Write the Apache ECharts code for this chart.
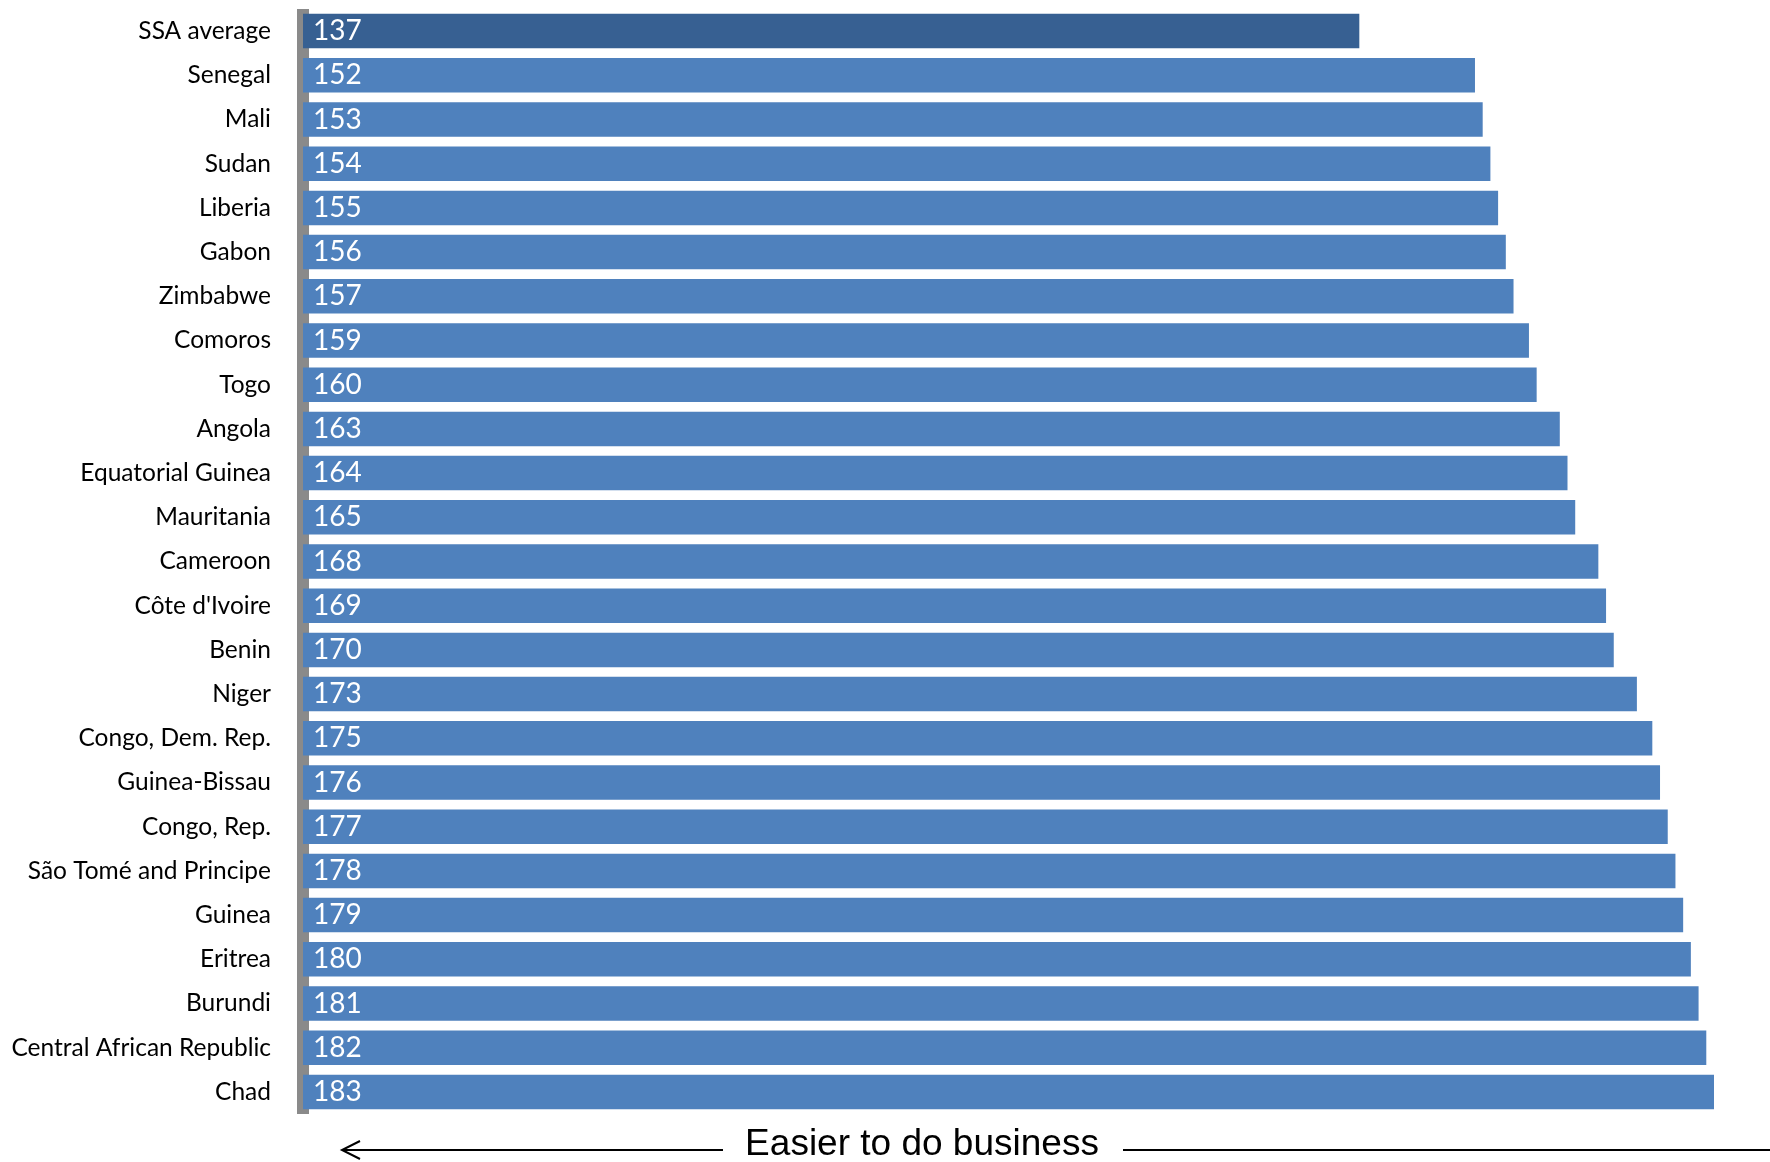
<!DOCTYPE html>
<html>
<head>
<meta charset="utf-8">
<script src="https://cdn.jsdelivr.net/npm/echarts@6/dist/echarts.min.js"></script>
<style>
html,body{margin:0;padding:0;background:#fff;}
#c{width:1770px;height:1162px;}
</style>
</head>
<body>
<div id="c"></div>
<script>
const categories = ["SSA average","Senegal","Mali","Sudan","Liberia","Gabon","Zimbabwe","Comoros","Togo","Angola","Equatorial Guinea","Mauritania","Cameroon","Côte d'Ivoire","Benin","Niger","Congo, Dem. Rep.","Guinea-Bissau","Congo, Rep.","São Tomé and Principe","Guinea","Eritrea","Burundi","Central African Republic","Chad"];
const values = [137,152,153,154,155,156,157,159,160,163,164,165,168,169,170,173,175,176,177,178,179,180,181,182,183];
const highlightCategory = "SSA average";
const annotationText = "Easier to do business";

const FONT = 'Lato, "Open Sans", sans-serif';
const chart = echarts.init(document.getElementById('c'));
chart.setOption({
  animation: false,
  grid: {left: 303, right: 56, top: 9, bottom: 48, containLabel: false},
  xAxis: {type: 'value', min: 0, max: 183, show: false},
  yAxis: {
    type: 'category', data: categories, inverse: true, offset: 6,
    axisLine: {show: true, lineStyle: {color: '#8a8a8a', width: 12, cap: 'butt'}},
    axisTick: {show: false},
    axisLabel: {color: '#000', fontSize: 24.5, fontFamily: FONT, margin: 26}
  },
  series: [{
    type: 'bar',
    barCategoryGap: '22%',
    data: values.map((v, i) => ({
      value: v,
      itemStyle: {color: categories[i] === highlightCategory ? '#376092' : '#4F81BD'}
    })),
    label: {show: true, position: 'insideLeft', distance: 10, color: '#fff', fontSize: 28, fontFamily: FONT}
  }],
  graphic: [
    {type: 'text', style: {text: annotationText, x: 922, y: 1145, align: 'center', verticalAlign: 'middle', fontSize: 37, fontFamily: '"Liberation Sans", Arial, sans-serif', fill: '#000'}},
    {type: 'line', shape: {x1: 342, y1: 1150, x2: 723, y2: 1150}, style: {stroke: '#000', lineWidth: 2}},
    {type: 'polyline', shape: {points: [[360, 1141], [342, 1150], [360, 1159]]}, style: {stroke: '#000', lineWidth: 2, fill: null}},
    {type: 'line', shape: {x1: 1123, y1: 1150, x2: 1770, y2: 1150}, style: {stroke: '#000', lineWidth: 2}}
  ]
});
</script>
</body>
</html>
